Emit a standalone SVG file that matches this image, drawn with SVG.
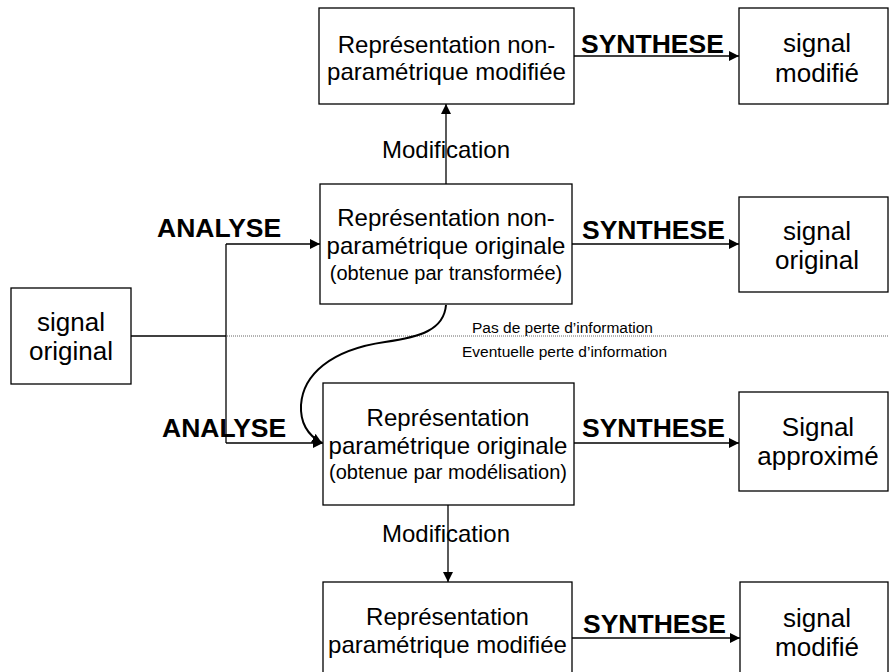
<svg xmlns="http://www.w3.org/2000/svg" width="889" height="672" viewBox="0 0 889 672">
<style>
.box{fill:#fff;stroke:#000;stroke-width:1.3}
.t{font-family:"Liberation Sans",Arial,sans-serif;fill:#000;text-anchor:middle}
.m{font-size:24px}
.s{font-size:26px}
.sm{font-size:20px}
.b{font-family:"Liberation Sans",Arial,sans-serif;font-weight:bold;font-size:26.5px;fill:#000}
.i{font-family:"Liberation Sans",Arial,sans-serif;font-size:15.5px;fill:#000}
.ln{fill:none;stroke:#000;stroke-width:1.3}
</style>
<defs>
<marker id="ah" viewBox="0 0 10 10" refX="10" refY="5" markerWidth="10" markerHeight="10" markerUnits="userSpaceOnUse" orient="auto">
<path d="M0,0 L10,5 L0,10 Z" fill="#000"/>
</marker>
</defs>
<g id="connectors">
<line x1="227" y1="336" x2="889" y2="336" stroke="#666" stroke-width="1" stroke-dasharray="1,1"/>
<path class="ln" d="M131,336 H226"/>
<path class="ln" d="M226,244 V443"/>
<path class="ln" d="M226,244 H320" marker-end="url(#ah)"/>
<path class="ln" d="M226,443 H323" marker-end="url(#ah)"/>
<path class="ln" d="M446,184 V104" marker-end="url(#ah)"/>
<path class="ln" d="M448,505 V582" marker-end="url(#ah)"/>
<path class="ln" d="M574,56 H739" marker-end="url(#ah)"/>
<path class="ln" d="M572,244 H739" marker-end="url(#ah)"/>
<path class="ln" d="M574,443 H739" marker-end="url(#ah)"/>
<path class="ln" d="M572,638 H740" marker-end="url(#ah)"/>
<path fill="none" stroke="#000" stroke-width="2" d="M446,305 C444,330 420,337 385,342 C330,350 303,375 301,405 C300,425 309,436 322,443" marker-end="url(#ah)"/>
</g>
<g id="labels">
<text class="b" x="157" y="237">ANALYSE</text>
<text class="b" x="162" y="437">ANALYSE</text>
<text class="b" x="581" y="53">SYNTHESE</text>
<text class="b" x="582" y="239">SYNTHESE</text>
<text class="b" x="582" y="437">SYNTHESE</text>
<text class="b" x="583" y="633">SYNTHESE</text>
<text class="t m" x="446" y="158">Modification</text>
<text class="t m" x="446" y="542">Modification</text>
<text class="i" x="472" y="333">Pas de perte d’information</text>
<text class="i" x="462" y="357">Eventuelle perte d’information</text>
</g>
<g id="signal-original-in">
<rect class="box" x="11" y="288" width="120" height="96"/>
<text class="t s" x="71" y="331">signal</text>
<text class="t s" x="71" y="360">original</text>
</g>
<g id="rep-nonparam-modifiee">
<rect class="box" x="319" y="8" width="255" height="96"/>
<text class="t m" x="446.5" y="53">Représentation non-</text>
<text class="t m" x="446.5" y="80">paramétrique modifiée</text>
</g>
<g id="rep-nonparam-originale">
<rect class="box" x="320" y="184" width="252" height="120"/>
<text class="t m" x="446" y="226">Représentation non-</text>
<text class="t m" x="446" y="254">paramétrique originale</text>
<text class="t sm" x="446" y="280">(obtenue par transformée)</text>
</g>
<g id="rep-param-originale">
<rect class="box" x="323" y="383" width="251" height="122"/>
<text class="t m" x="448" y="426">Représentation</text>
<text class="t m" x="448" y="454">paramétrique originale</text>
<text class="t sm" x="448" y="479">(obtenue par modélisation)</text>
</g>
<g id="rep-param-modifiee">
<rect class="box" x="323" y="582" width="249" height="100"/>
<text class="t m" x="447.5" y="625">Représentation</text>
<text class="t m" x="447.5" y="653">paramétrique modifiée</text>
</g>
<g id="signal-modifie-1">
<rect class="box" x="739" y="8" width="149" height="96"/>
<text class="t s" x="817" y="52">signal</text>
<text class="t s" x="817" y="82">modifié</text>
</g>
<g id="signal-original-out">
<rect class="box" x="739" y="197" width="149" height="95"/>
<text class="t s" x="817" y="240">signal</text>
<text class="t s" x="817" y="269">original</text>
</g>
<g id="signal-approxime">
<rect class="box" x="739" y="392" width="149" height="99"/>
<text class="t s" x="818" y="436">Signal</text>
<text class="t s" x="818" y="465">approximé</text>
</g>
<g id="signal-modifie-2">
<rect class="box" x="740" y="582" width="148" height="100"/>
<text class="t s" x="817" y="627">signal</text>
<text class="t s" x="817" y="656">modifié</text>
</g>
</svg>
